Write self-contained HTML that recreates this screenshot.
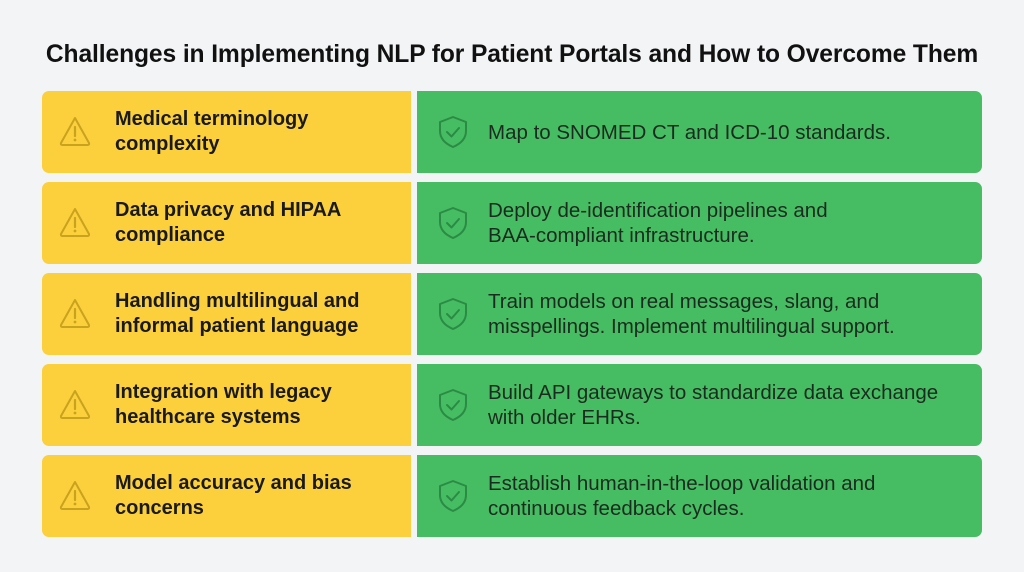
<!DOCTYPE html>
<html><head><meta charset="utf-8"><style>
body{margin:0;width:1024px;height:572px;background:#f3f4f6;font-family:"Liberation Sans",sans-serif;position:relative;overflow:hidden}
h1{position:absolute;top:41px;left:0;width:1024px;text-align:center;margin:0;font-size:24.6px;font-weight:bold;color:#111;letter-spacing:-0.1px}
.y,.g{position:absolute;height:82px;display:flex;align-items:center;box-sizing:border-box}
.y{left:42px;width:369px;background:#fbd03c;border-radius:7px 0 0 7px;padding-left:73px;font-weight:bold;font-size:20px;color:#1a1a1a;line-height:25px}
.g{left:417px;width:565px;background:#46bd62;border-radius:0 7px 7px 0;padding-left:71px;font-size:20.5px;color:#1c2b1f;line-height:25px}
svg{position:absolute;top:24px}
.y svg{left:17px}.g svg{left:20px}
</style></head><body>
<h1>Challenges in Implementing NLP for Patient Portals and How to Overcome Them</h1>
<div id="c"></div>
<script>
var rows=[["Medical terminology<br>complexity","Map to SNOMED CT and ICD-10 standards."],
["Data privacy and HIPAA<br>compliance","Deploy de-identification pipelines and<br>BAA-compliant infrastructure."],
["Handling multilingual and<br>informal patient language","Train models on real messages, slang, and<br>misspellings. Implement multilingual support."],
["Integration with legacy<br>healthcare systems","Build API gateways to standardize data exchange<br>with older EHRs."],
["Model accuracy and bias<br>concerns","Establish human-in-the-loop validation and<br>continuous feedback cycles."]];
var tri='<svg width="32" height="32" viewBox="0 0 32 32"><path d="M16 3 L30 28 Q30.5 30 28.5 30 L3.5 30 Q1.5 30 2 28 Z" fill="none" stroke="#c9a21e" stroke-width="2" stroke-linejoin="round"/><line x1="16" y1="12" x2="16" y2="21" stroke="#c9a21e" stroke-width="2.2" stroke-linecap="round"/><circle cx="16" cy="25" r="1.4" fill="#c9a21e"/></svg>';
var sh='<svg width="32" height="34" viewBox="0 0 32 34"><path d="M16 2 L29 7 V16 C29 24 23 29 16 32 C9 29 3 24 3 16 V7 Z" fill="none" stroke="#2b8b45" stroke-width="2" stroke-linejoin="round"/><path d="M10 17 L14.5 21.5 L22 13" fill="none" stroke="#2b8b45" stroke-width="2" stroke-linecap="round" stroke-linejoin="round"/></svg>';
var h='';rows.forEach(function(r,i){var t=91+i*91;
h+='<div class="y" style="top:'+t+'px">'+tri+'<div>'+r[0]+'</div></div><div class="g" style="top:'+t+'px">'+sh+'<div>'+r[1]+'</div></div>';});
document.getElementById('c').innerHTML=h;
</script>
</body></html>
